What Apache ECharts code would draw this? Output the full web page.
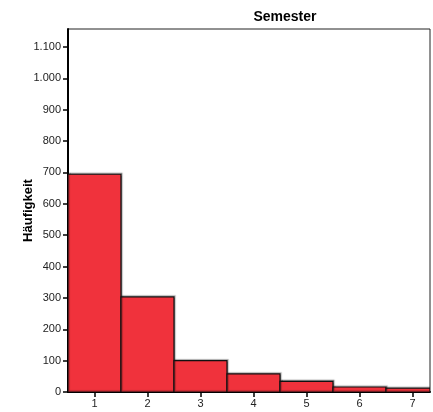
<!DOCTYPE html>
<html><head><meta charset="utf-8">
<script src="https://cdn.jsdelivr.net/npm/echarts@6/dist/echarts.min.js"></script>
<style>html,body{margin:0;padding:0;background:#fff}#c{width:433px;height:412px}</style>
</head><body><div id="c"></div>
<script>
const semesters = [1, 2, 3, 4, 5, 6, 7];
const counts = [694, 303, 100, 58, 34, 16, 12];
const yTicks = [0, 100, 200, 300, 400, 500, 600, 700, 800, 900, 1000, 1100];

const chart = echarts.init(document.getElementById('c'), null, {renderer: 'canvas'});
const fmt = v => String(v).replace(/\B(?=(\d{3})+(?!\d))/g, '.');
chart.setOption({
  animation: false,
  title: {text: 'Semester', left: 280, top: 5, textAlign: 'center',
    textStyle: {fontFamily: 'Liberation Sans', fontWeight: 'bold', fontSize: 14, color: '#000'}},
  grid: {left: 68, right: 3, top: 29, bottom: 20, show: true, borderColor: '#222', borderWidth: 1, backgroundColor: '#fff'},
  xAxis: {
    type: 'value', min: 0.5, max: 7.33,
    axisLine: {show: true, lineStyle: {color: '#000', width: 2}},
    axisTick: {show: true, length: 5, lineStyle: {color: '#000', width: 1.5}, customValues: semesters},
    axisLabel: {customValues: semesters, fontFamily: 'Liberation Sans', fontSize: 11, color: '#222', margin: 6},
    splitLine: {show: false}
  },
  yAxis: {
    type: 'value', min: 0, max: 1157,
    name: 'Häufigkeit', nameLocation: 'middle', nameGap: 33, nameRotate: 90, nameMoveOverlap: false,
    nameTextStyle: {fontFamily: 'Liberation Sans', fontWeight: 'bold', fontSize: 13, color: '#000'},
    axisLine: {show: true, lineStyle: {color: '#000', width: 2}},
    axisTick: {show: true, length: 5, lineStyle: {color: '#000', width: 1.5}, customValues: yTicks},
    axisLabel: {customValues: yTicks, formatter: fmt, fontFamily: 'Liberation Sans', fontSize: 11, color: '#222', margin: 7},
    splitLine: {show: false}
  },
  series: [{
    type: 'custom',
    clip: true,
    data: semesters.map((s, i) => [s, counts[i]]),
    renderItem: function (params, api) {
      const x = api.value(0), y = api.value(1);
      const p0 = api.coord([x - 0.5, y]);
      const p1 = api.coord([x + 0.5, 0]);
      const rect = echarts.graphic.clipRectByRect(
        {x: p0[0], y: p0[1], width: p1[0] - p0[0], height: p1[1] - p0[1]},
        {x: params.coordSys.x, y: params.coordSys.y, width: params.coordSys.width, height: params.coordSys.height});
      if (!rect) return;
      return {type: 'rect', shape: rect,
        style: {fill: '#F0323C', stroke: '#111', lineWidth: 1.2, shadowColor: 'rgba(0,0,0,0.35)', shadowOffsetX: 1, shadowOffsetY: -1, shadowBlur: 1}};
    }
  }]
});
</script></body></html>
